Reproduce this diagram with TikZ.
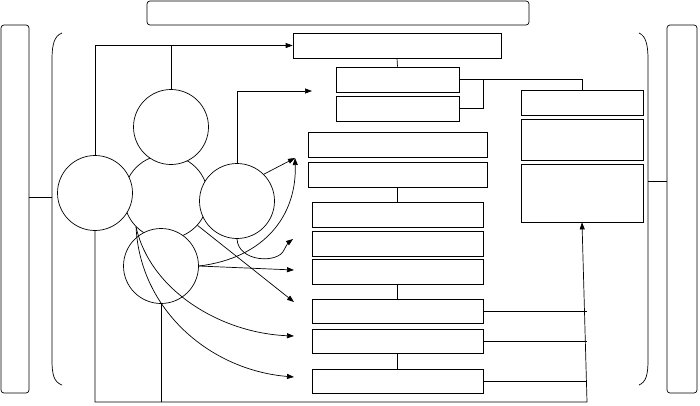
\documentclass[tikz,border=0pt]{standalone}
\usetikzlibrary{arrows.meta}
\begin{document}
\begin{tikzpicture}[x=1pt,y=-1pt,line width=0.7pt,>={Triangle[length=7pt,width=5pt]},
  bar/.style={draw,rounded corners=3pt,inner sep=0pt},
  box/.style={draw,inner sep=0pt,minimum height=25pt},
  circ/.style={draw,circle,fill=white,inner sep=0pt,minimum size=75pt}]
  \useasboundingbox (0,0) rectangle (700,405);

  \node [bar,minimum width=382pt,minimum height=24pt] (title) at (338,13) {};
  \node [bar,minimum width=28pt,minimum height=368pt] (leftbar) at (15,209) {};
  \node [bar,minimum width=30pt,minimum height=368pt] (rightbar) at (682,209) {};

  \draw (62,33) .. controls (54,36) and (52,45) .. (52,60) -- (52,360) .. controls (52,375) and (54,382) .. (62,385);
  \draw (639,33) .. controls (646,36) and (648,45) .. (648,60) -- (648,360) .. controls (648,375) and (646,382) .. (639,385);
  \coordinate (lbr) at (52,197);
  \coordinate (rbr) at (648,181);
  \draw (lbr) -- (lbr -| leftbar.east);
  \draw (rbr) -- (rbr -| rightbar.west);

  \node [box,minimum width=208pt] (b1) at (397,45.5) {};
  \node [box,minimum width=123pt] (b2) at (397.5,79.5) {};
  \node [box,minimum width=123pt] (b3) at (397.5,108.5) {};
  \node [box,minimum width=179pt] (b4) at (397.5,144.5) {};
  \node [box,minimum width=179pt] (b5) at (397.5,174.5) {};
  \node [box,minimum width=171pt] (b9) at (397.5,214.5) {};
  \node [box,minimum width=171pt] (b10) at (397.5,243.5) {};
  \node [box,minimum width=171pt] (b11) at (397.5,271.5) {};
  \node [box,minimum width=171pt,minimum height=24pt] (b12) at (397.5,311) {};
  \node [box,minimum width=171pt,minimum height=24pt] (b13) at (397.5,341) {};
  \node [box,minimum width=171pt,minimum height=24pt] (b14) at (397.5,381) {};
  \node [box,minimum width=122pt] (b6) at (582,102.5) {};
  \node [box,minimum width=122pt,minimum height=41pt] (b7) at (582,139.5) {};
  \node [box,minimum width=122pt,minimum height=58pt] (b8) at (582,193) {};

  \draw (b1.south) -- (b2.north);
  \draw (b2.east) -| (b6.north);
  \coordinate (join) at (483,80);
  \draw (b3.east) -| (join);
  \draw (b5.south) -- (b9.north);
  \draw (b11.south) -- (b12.north);
  \draw (b13.south) -- (b14.north);

  \node [circ,minimum size=84pt] (core) at (166,197) {};
  \node [circ] (ctop) at (171,127) {};
  \node [circ] (cleft) at (95,193) {};
  \node [circ] (cright) at (237,201) {};
  \node [circ] (cbottom) at (161,266) {};

  \coordinate (bot) at (587,402);
  \draw [->] (cleft.south) |- (bot) -- (b8.south);
  \draw (cbottom.south) -- (cbottom.south |- bot);
  \draw (b12.east) -- (b12.east -| bot);
  \draw (b13.east) -- (b13.east -| bot);
  \draw (b14.east) -- (b14.east -| bot);

  \draw [->] (cleft.north) |- (b1.west);
  \draw (ctop.north) -- (ctop.north |- b1.west);
  \coordinate (t1) at (312,91);
  \draw [->] (cright.north) |- (t1);

  \coordinate (t2) at (295,158);
  \coordinate (t3) at (293,239);
  \coordinate (t4) at (294,270);
  \coordinate (t5) at (294,302);
  \coordinate (t6) at (294,336);
  \coordinate (t7) at (294,377);
  \draw [->] (cright.45) -- (t2);
  \draw [->] (cbottom.east) .. controls (265,258) and (297,215) .. (t2);
  \draw [->] (cright.south) .. controls (238,262) and (278,264) .. (284,250) .. controls (287,244) and (289,242) .. (t3);
  \draw [->] (cbottom.east) -- (t4);
  \draw [->] (core.-42) -- (t5);
  \draw [->] (core.-135) .. controls (150,290) and (220,333) .. (t6);
  \draw [->] (core.-135) .. controls (140,310) and (210,370) .. (t7);

\end{tikzpicture}
\end{document}
